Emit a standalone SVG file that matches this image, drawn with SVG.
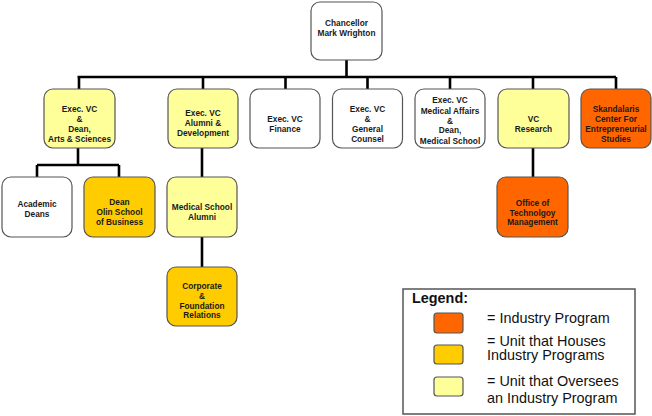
<svg xmlns="http://www.w3.org/2000/svg" width="652" height="416" viewBox="0 0 652 416">
<style>
.b{stroke:#555;stroke-width:1.2}
.w{fill:#fff}.o{fill:#ff6600}.g{fill:#ffcc00}.y{fill:#ffff99}
.t{font-family:"Liberation Sans",Arial,sans-serif;font-weight:bold;font-size:8.3px;fill:#1a1a1a;text-anchor:middle}
.c{stroke:#000;stroke-width:2.6;fill:none}
.lg{font-family:"Liberation Sans",Arial,sans-serif;font-size:14.4px;fill:#111}
</style>
<g id="connectors">
<path class="c" d="M346.5,60V77M77.5,77H616M79,77V89M203,77V89M285.5,77V89M367.5,77V89M450,77V89M533,77V89M616,77V89"/>
<path class="c" d="M78,148V165M37,165H119M37,165V177M119,165V177"/>
<path class="c" d="M202,148V177M202,237V267"/>
<path class="c" d="M533,148V177"/>
</g>
<g id="chancellor"><rect class="b w" x="311" y="2" width="71" height="58" rx="9"/>
<text class="t"><tspan x="346.5" y="26">Chancellor</tspan><tspan x="346.5" y="36">Mark Wrighton</tspan></text></g>
<g id="evc-arts"><rect class="b y" x="44" y="89" width="71" height="59" rx="9"/>
<text class="t"><tspan x="79.5" y="112">Exec. VC</tspan><tspan x="79.5" y="122">&amp;</tspan><tspan x="79.5" y="132">Dean,</tspan><tspan x="79.5" y="141.5">Arts &amp; Sciences</tspan></text></g>
<g id="evc-alumni"><rect class="b y" x="168" y="89" width="70" height="59" rx="9"/>
<text class="t"><tspan x="203" y="116">Exec. VC</tspan><tspan x="203" y="126">Alumni &amp;</tspan><tspan x="203" y="136">Development</tspan></text></g>
<g id="evc-finance"><rect class="b w" x="250" y="89" width="70" height="59" rx="9"/>
<text class="t"><tspan x="285" y="122">Exec. VC</tspan><tspan x="285" y="132">Finance</tspan></text></g>
<g id="evc-counsel"><rect class="b w" x="332.5" y="89" width="70" height="59" rx="9"/>
<text class="t"><tspan x="367.5" y="112">Exec. VC</tspan><tspan x="367.5" y="122">&amp;</tspan><tspan x="367.5" y="132">General</tspan><tspan x="367.5" y="141.5">Counsel</tspan></text></g>
<g id="evc-medical"><rect class="b w" x="415" y="89" width="70" height="59" rx="9"/>
<text class="t"><tspan x="450" y="103">Exec. VC</tspan><tspan x="450" y="114">Medical Affairs</tspan><tspan x="450" y="124">&amp;</tspan><tspan x="450" y="133">Dean,</tspan><tspan x="450" y="144">Medical School</tspan></text></g>
<g id="vc-research"><rect class="b y" x="498" y="89" width="71" height="59" rx="9"/>
<text class="t"><tspan x="533.5" y="122">VC</tspan><tspan x="533.5" y="132">Research</tspan></text></g>
<g id="skandalaris"><rect class="b o" x="581" y="89" width="70" height="59" rx="9"/>
<text class="t"><tspan x="616" y="112">Skandalaris</tspan><tspan x="616" y="122">Center For</tspan><tspan x="616" y="132">Entrepreneurial</tspan><tspan x="616" y="141.5">Studies</tspan></text></g>
<g id="academic-deans"><rect class="b w" x="2" y="177" width="70" height="60" rx="9"/>
<text class="t"><tspan x="37" y="207">Academic</tspan><tspan x="37" y="217">Deans</tspan></text></g>
<g id="olin"><rect class="b g" x="84" y="177" width="71" height="60" rx="9"/>
<text class="t"><tspan x="119.5" y="205">Dean</tspan><tspan x="119.5" y="215">Olin School</tspan><tspan x="119.5" y="225">of Business</tspan></text></g>
<g id="med-alumni"><rect class="b y" x="167" y="177" width="70" height="60" rx="9"/>
<text class="t"><tspan x="202" y="210">Medical School</tspan><tspan x="202" y="220">Alumni</tspan></text></g>
<g id="corporate"><rect class="b g" x="167" y="267" width="70" height="59" rx="9"/>
<text class="t"><tspan x="202" y="289">Corporate</tspan><tspan x="202" y="299">&amp;</tspan><tspan x="202" y="309">Foundation</tspan><tspan x="202" y="318">Relations</tspan></text></g>
<g id="otm"><rect class="b o" x="497" y="177" width="71" height="60" rx="9"/>
<text class="t"><tspan x="532.5" y="206">Office of</tspan><tspan x="532.5" y="216">Technolgoy</tspan><tspan x="532.5" y="225">Management</tspan></text></g>
<g id="legend">
<rect x="403" y="289" width="232" height="125" fill="#fff" stroke="#555" stroke-width="1.5"/>
<text class="lg" x="412" y="303" font-weight="bold">Legend:</text>
<rect class="b o" x="434" y="313" width="29" height="20" rx="3"/>
<rect class="b g" x="434" y="345" width="29" height="19" rx="3"/>
<rect class="b y" x="434" y="377" width="29" height="19" rx="3"/>
<text class="lg" x="487" y="323">= Industry Program</text>
<text class="lg" x="487" y="345.5">= Unit that Houses</text>
<text class="lg" x="487" y="359.5">Industry Programs</text>
<text class="lg" x="487" y="386">= Unit that Oversees</text>
<text class="lg" x="487" y="403">an Industry Program</text>
</g>
</svg>
